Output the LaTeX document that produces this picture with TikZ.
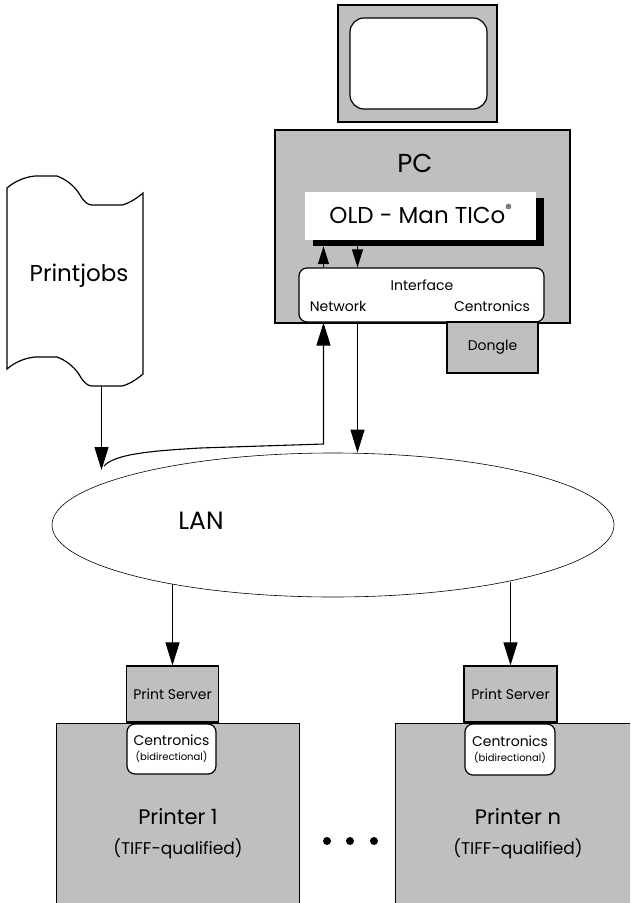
\documentclass[tikz,border=0pt]{standalone}
\usepackage{fontspec}
\setmainfont{Poppins}
\usepackage{tikz}
\usetikzlibrary{shapes.geometric, calc}
\usetikzlibrary{arrows.meta, shadows}

\definecolor{boxgray}{RGB}{191,191,191}

\tikzset{
  graybox/.style={draw, line width=1.2pt, fill=boxgray, inner sep=0pt},
  whitebox/.style={draw, line width=1.2pt, fill=white, rounded corners=8pt, inner sep=0pt},
  link/.style={line width=1.1pt, -{Triangle[length=23pt, width=14pt]}},
  shortlink/.style={line width=1.1pt, -{Triangle[length=18pt, width=11pt]}},
  small/.style={font=\fontsize{14}{16}\selectfont}
}

\begin{document}
\begin{tikzpicture}[x=1pt, y=-1pt]
            \useasboundingbox (0,0) rectangle (630,903);
            \clip (0,0) rectangle (630,903);

            % Draw the monitor
            \node[graybox, minimum width=159pt, minimum height=117pt] (monitor) at (417.5,63.5) {};
            \node[whitebox, rounded corners=14pt, minimum width=137pt, minimum height=91pt] (screen) at (418.5,63.5) {};

            % Draw the PC with its parts
            \node[graybox, minimum width=295pt, minimum height=193pt] (pc) at (422.5,226.5) {};
            \node[font=\fontsize{26}{28}\selectfont] (pclabel) at (415,163) {PC};
            \node[fill=white, inner sep=0pt, minimum width=231pt, minimum height=48pt,
                  drop shadow={shadow xshift=8pt, shadow yshift=-6pt, fill=black, opacity=1}]
                  (oldman) at (420.5,216) {};
            \node[font=\fontsize{23}{26}\selectfont] (oldlabel) at (421,214) {OLD - Man TICo\textsuperscript{\fontsize{13}{13}\selectfont\char"00AE}};
            \node[whitebox, minimum width=245pt, minimum height=54pt] (iface) at (421.5,295) {};
            \node[small] at (422,285) {Interface};
            \node[small] at (338,306) {Network};
            \node[small] at (492,306) {Centronics};
            \node[graybox, small, minimum width=91pt, minimum height=51pt] (dongle) at (492.5,347.5) {Dongle};

            % Draw the printjobs
            \draw[line width=1.2pt] (7,188) .. controls (15,181) and (25,177) .. (35,176) -- (57,176)
                .. controls (68,180) and (76,188) .. (80,195) .. controls (84,202) and (88,205) .. (92,205)
                -- (122,205) .. controls (130,203) and (137,198) .. (143,193) -- (143,374)
                .. controls (137,379) and (130,384) .. (122,386) -- (92,386)
                .. controls (88,386) and (84,383) .. (80,376) .. controls (76,369) and (68,361) .. (57,357)
                -- (35,357) .. controls (25,358) and (15,362) .. (7,369) -- cycle;
            \node[font=\fontsize{23}{26}\selectfont] (jobs) at (79,276) {Printjobs};
            \coordinate (jobsout) at (101.5,386);
            \coordinate (jobsin) at (101.5,470);

            % Draw the LAN
            \node[draw, ellipse, semithick, inner sep=0pt, minimum width=562pt, minimum height=144pt] (lan) at (333,525) {};
            \node[font=\fontsize{25}{27}\selectfont] (lanlabel) at (201,521) {LAN};

            % Draw the printers
            \node[graybox, minimum width=243pt, minimum height=200pt, anchor=north west] (pr1) at (56,723) {};
            \node[graybox, minimum width=260pt, minimum height=200pt, anchor=north west] (prn) at (395,723) {};
            \node[graybox, small, minimum width=92pt, minimum height=56pt] (ps1) at (172.5,694) {Print Server};
            \node[graybox, small, minimum width=93pt, minimum height=56pt] (psn) at (510.5,694) {Print Server};
            \node[whitebox, minimum width=89pt, minimum height=50pt, align=center, font=\fontsize{14}{17}\selectfont] (cen1) at (171.5,749)
                {Centronics\\[-2pt]{\fontsize{10}{12}\selectfont(bidirectional)}};
            \node[whitebox, minimum width=90pt, minimum height=51pt, align=center, font=\fontsize{14}{17}\selectfont] (cenn) at (510,749.5)
                {Centronics\\[-2pt]{\fontsize{10}{12}\selectfont(bidirectional)}};
            \node[align=center, font=\fontsize{21}{30}\selectfont] (pr1label) at (178,834)
                {Printer 1\\{\fontsize{17}{20}\selectfont(TIFF-qualified)}};
            \node[align=center, font=\fontsize{21}{30}\selectfont] (prnlabel) at (518,834)
                {Printer n\\{\fontsize{17}{20}\selectfont(TIFF-qualified)}};
            \foreach \x in {327,350,374}
                \fill (\x,841) circle (4);

            % Draw the links
            \coordinate (netup) at (323.5,444);
            \coordinate (netdown) at (357.5,444);
            \draw[link] (jobsout) -- (jobsin);
            \draw[link] (104,466) .. controls (115,454) and (150,451) .. (200,448) -- (netup) -- (iface.south -| netup);
            \draw[shortlink] (iface.north -| netup) -- ($(oldman.south -| netup)+(0,6)$);
            \draw[shortlink] ($(oldman.south -| netdown)+(0,6)$) -- (iface.north -| netdown);
            \draw[link] (iface.south -| netdown) -- (lan.north -| netdown);
            \draw[link] (ps1.north |- lan.200) -- (ps1.north);
            \draw[link] (psn.north |- lan.342.5) -- (psn.north);
        \end{tikzpicture}
\end{document}
